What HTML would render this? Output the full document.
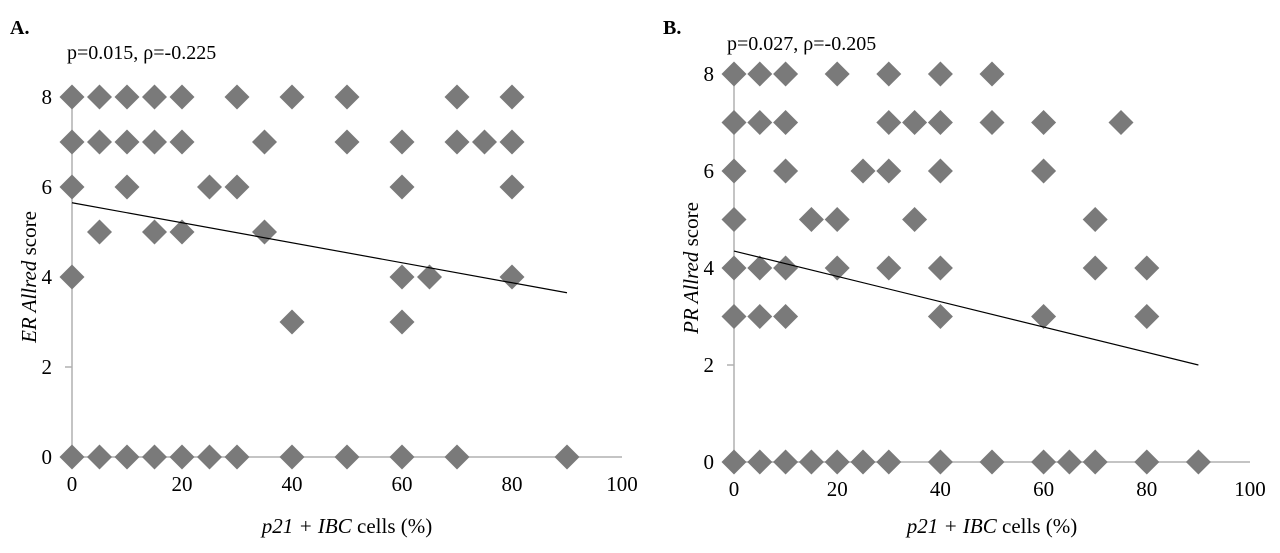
<!DOCTYPE html>
<html><head><meta charset="utf-8"><style>
html,body{margin:0;padding:0;background:#fff;}
svg{display:block;font-family:"Liberation Serif",serif;}
</style></head><body>
<svg id="c" width="1280" height="553" xmlns="http://www.w3.org/2000/svg"></svg>
<script>
const xTicks=[0,20,40,60,80,100];
const yTicks=[0,2,4,6,8];
const aX=[0,5,10,15,20,30,40,50,70,80, 0,5,10,15,20,35,50,60,70,75,80, 0,10,25,30,60,80, 5,15,20,35, 0,60,65,80, 40,60, 0,5,10,15,20,25,30,40,50,60,70,90];
const aY=[8,8,8,8,8,8,8,8,8,8, 7,7,7,7,7,7,7,7,7,7,7, 6,6,6,6,6,6, 5,5,5,5, 4,4,4,4, 3,3, 0,0,0,0,0,0,0,0,0,0,0,0];
const aTrend=[[0,5.65],[90,3.65]];
const bX=[0,5,10,20,30,40,50, 0,5,10,30,35,40,50,60,75, 0,10,25,30,40,60, 0,15,20,35,70, 0,5,10,20,30,40,70,80, 0,5,10,40,60,80, 0,5,10,15,20,25,30,40,50,60,65,70,80,90];
const bY=[8,8,8,8,8,8,8, 7,7,7,7,7,7,7,7,7, 6,6,6,6,6,6, 5,5,5,5,5, 4,4,4,4,4,4,4,4, 3,3,3,3,3,3, 0,0,0,0,0,0,0,0,0,0,0,0,0,0];
const bTrend=[[0,4.35],[90,2.0]];

const NS="http://www.w3.org/2000/svg";
const svg=document.getElementById('c');
function mk(tag,attrs,parent){const e=document.createElementNS(NS,tag);for(const k in attrs)e.setAttribute(k,attrs[k]);(parent||svg).appendChild(e);return e;}
function panel(p){
  const g=mk('g',{});
  
  
  const sx=v=>p.x0+(p.x1-p.x0)*v/100;
  const sy=v=>p.y0-(p.y0-p.y8)*v/8;
  const ax=mk('line',{x1:sx(0),y1:sy(0),x2:sx(100),y2:sy(0),stroke:'#b0b0b0','stroke-width':1.5},g);
  
  const ay=mk('line',{x1:sx(0),y1:sy(0),x2:sx(0),y2:sy(8)-4,stroke:'#b0b0b0','stroke-width':1.5},g);
  
  xTicks.forEach(t=>{const e=mk('text',{x:sx(t),y:sy(0)+34,'text-anchor':'middle','font-size':21},g);e.textContent=t;
    });
  yTicks.forEach(t=>{const e=mk('text',{x:sx(0)-20,y:sy(t)+7,'text-anchor':'end','font-size':21},g);e.textContent=t;
    
    const tm=mk('line',{x1:sx(0)-7,y1:sy(t),x2:sx(0),y2:sy(t),stroke:'#b0b0b0','stroke-width':1.5},g);
    });
  const h=12.5;
  p.xs.forEach((xv,i)=>{const cx=sx(xv),cy=sy(p.ys[i]);
    const d=mk('path',{d:`M${cx-h},${cy}L${cx},${cy-h}L${cx+h},${cy}L${cx},${cy+h}Z`,fill:'#7a7a7a'},g);
    });
  const tl=mk('line',{x1:sx(p.tr[0][0]),y1:sy(p.tr[0][1]),x2:sx(p.tr[1][0]),y2:sy(p.tr[1][1]),stroke:'#000','stroke-width':1.2},g);
  
  const lab=mk('text',{x:p.lx,y:34,'font-size':20,'font-weight':'bold'},g);lab.textContent=p.label;
  
  const st=mk('text',{x:p.sx,y:p.sty,'font-size':20},g);st.textContent=p.stat;
  
  const xt=mk('text',{x:(sx(0)+sx(100))/2,y:533,'text-anchor':'middle','font-size':21},g);
  xt.innerHTML='<tspan font-style="italic">p21 + IBC</tspan> cells (%)';
  
  const yc=(sy(0)+sy(8))/2;
  const yt=mk('text',{x:p.ytx,y:yc,'text-anchor':'middle','font-size':21,transform:`rotate(-90 ${p.ytx} ${yc})`},g);
  yt.innerHTML=`<tspan font-style="italic">${p.ytitle}</tspan> score`;
  
}
panel({id:'a',x0:72,x1:622,y0:457,y8:97,xs:aX,ys:aY,tr:aTrend,label:'A.',lx:10,stat:'p=0.015, ρ=-0.225',sx:67,sty:59,ytitle:'ER Allred',ytx:36});
panel({id:'b',x0:734,x1:1250,y0:462,y8:74,xs:bX,ys:bY,tr:bTrend,label:'B.',lx:663,stat:'p=0.027, ρ=-0.205',sx:727,sty:50,ytitle:'PR Allred',ytx:698});
</script>
</body></html>
